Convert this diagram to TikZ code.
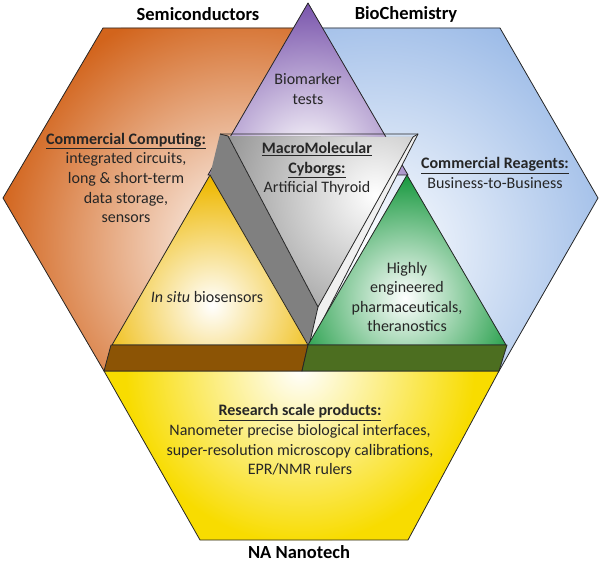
\documentclass[tikz,border=0pt]{standalone}
\usepackage{fontspec}
\setmainfont{Carlito}
\definecolor{cOrange}{RGB}{210,100,28}
\definecolor{cBlue}{RGB}{150,183,230}
\definecolor{cPurple}{RGB}{110,70,165}
\definecolor{cYel}{RGB}{238,184,0}
\definecolor{cGreen}{RGB}{18,150,58}
\definecolor{cBot}{RGB}{248,220,0}
\definecolor{cBrown}{RGB}{140,84,5}
\definecolor{cBarG}{RGB}{76,110,32}
\definecolor{cDark}{RGB}{128,128,128}
\definecolor{cFront}{RGB}{145,145,145}
\definecolor{cTxt}{RGB}{38,38,38}
\tikzset{
  edge/.style={draw=black!85, line width=0.8pt, line join=round},
  body/.style={font=\fontsize{16}{19.6}\selectfont, text=cTxt, align=center},
  title/.style={font=\fontsize{18.5}{22}\selectfont\bfseries, text=black}
}
\newcommand\gradfill[4]{%
  \fill[#1] #4;
  \begin{scope}\clip #4;
    \shade[inner color=white, outer color=#1] #2 circle[radius=#3];
  \end{scope}}
\begin{document}
\begin{tikzpicture}[x=1pt,y=-1pt]
\useasboundingbox (0,0) rectangle (600,564);
% orange sector
\gradfill{cOrange}{(245,245)}{250pt}{(103,28) -- (308,28) -- (308,371) -- (104,371) -- (3,198) -- cycle}
\draw[edge] (308,28) -- (103,28) -- (3,198) -- (104,371);
% blue sector
\gradfill{cBlue}{(375,250)}{270pt}{(300,28) -- (500,28) -- (598,198) -- (499,371) -- (300,371) -- cycle}
\draw[edge] (300,28) -- (500,28) -- (598,198) -- (499,371);
% yellow bottom
\gradfill{cBot}{(300,368)}{175pt}{(104,371) -- (499,371) -- (408,540) -- (200,540) -- cycle}
\draw[edge] (104,371) -- (499,371) -- (408,540) -- (200,540) -- cycle;
% purple triangle
\gradfill{cPurple}{(308,160)}{170pt}{(308,3) -- (408,175) -- (208,175) -- cycle}
\draw[edge] (308,3) -- (408,175) -- (208,175) -- cycle;
% gray prism
\fill[cDark] (220,134) -- (228,136) -- (318,307) -- (309,346) -- (210,175) -- cycle;
\fill[white!94!black] (413,137) -- (418,134) -- (310,345) -- (318,307) -- cycle;
\gradfill{cFront}{(375,195)}{165pt}{(228,136) -- (413,137) -- (318,307) -- cycle}
\draw[edge] (220,134) -- (418,134) -- (310,345);
\draw[edge] (220,134) -- (228,136) -- (318,307) -- (413,137) -- (418,134);
\draw[edge] (318,307) -- (309,346);
% yellow triangle
\gradfill{cYel}{(212,305)}{125pt}{(112,345) -- (210,175) -- (308,345) -- cycle}
\draw[edge] (112,345) -- (210,175) -- (308,345) -- cycle;
% green triangle
\gradfill{cGreen}{(405,298)}{125pt}{(308,345) -- (407,175) -- (506,345) -- cycle}
\draw[edge] (308,345) -- (407,175) -- (506,345) -- cycle;
% bars
\fill[cBrown] (111,345) -- (308,345) -- (302,371) -- (104,371) -- cycle;
\draw[edge] (111,345) -- (308,345) -- (302,371) -- (104,371) -- cycle;
\fill[cBarG] (308,345) -- (507,345) -- (499,371) -- (302,371) -- cycle;
\draw[edge] (308,345) -- (507,345) -- (499,371) -- (302,371) -- cycle;
% texts
\node[title] (t1) at (198,14) {Semiconductors};
\node[title] (t2) at (406,14) {BioChemistry};
\node[title] (t3) at (299,552) {NA Nanotech};
\node[body] (cc) at (126,178) {\underline{\textbf{Commercial Computing:}}\\integrated circuits,\\long \& short-term\\data storage,\\sensors};
\node[body] (bm) at (308,89) {Biomarker\\tests};
\node[body] (mm) at (317,169) {\underline{\textbf{MacroMolecular}}\\\underline{\textbf{Cyborgs:}}\\Artificial Thyroid};
\node[body] (cr) at (495,173) {\underline{\textbf{Commercial Reagents:}}\\Business-to-Business};
\node[body] (is) at (207,297) {\textit{In situ} biosensors};
\node[body] (he) at (407,297) {Highly\\engineered\\pharmaceuticals,\\theranostics};
\node[body] (rs) at (300,440) {\underline{\textbf{Research scale products:}}\\Nanometer precise biological interfaces,\\super-resolution microscopy calibrations,\\EPR/NMR rulers};
\end{tikzpicture}
\end{document}
